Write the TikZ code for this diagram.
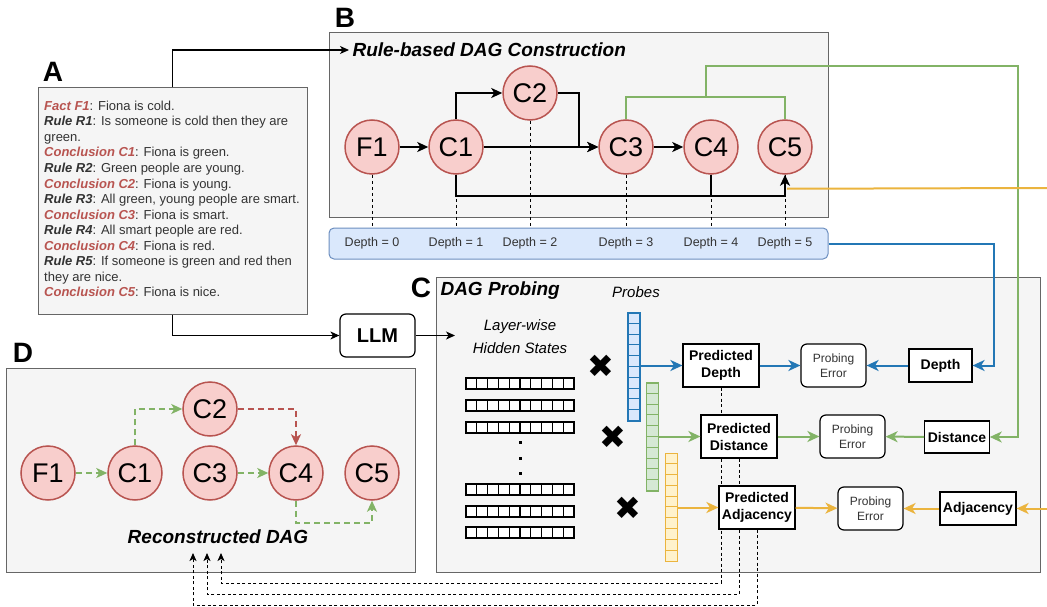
\documentclass[tikz,border=0pt]{standalone}
\usepackage{fontspec}
\setmainfont{Liberation Sans}
\newfontfamily\symfont{DejaVu Sans}
\usetikzlibrary{arrows.meta,calc}
\pgfdeclarelayer{behind}
\pgfsetlayers{behind,main}

\definecolor{nodefill}{HTML}{F8CECC}
\definecolor{noderim}{HTML}{B85450}
\definecolor{panelfill}{HTML}{F5F5F5}
\definecolor{panelrim}{HTML}{666666}
\definecolor{barfill}{HTML}{DAE8FC}
\definecolor{barrim}{HTML}{6C8EBF}
\definecolor{cblue}{HTML}{2377B5}
\definecolor{cgreen}{HTML}{82B366}
\definecolor{cyellow}{HTML}{EBB43E}
\definecolor{gfill}{HTML}{D5E8D4}
\definecolor{yfill}{HTML}{FFF2CC}
\definecolor{txtgray}{HTML}{333333}

\newcommand{\redlbl}[1]{\textcolor{noderim}{\bfseries\itshape #1}}
\newcommand{\darklbl}[1]{{\bfseries\itshape #1}}

\begin{document}
\begin{tikzpicture}[x=1pt,y=-1pt,
  panel/.style={draw=panelrim,fill=panelfill,line width=1pt},
  letter/.style={font=\fontsize{28}{28}\selectfont\bfseries},
  ptitle/.style={anchor=west,font=\fontsize{19}{19}\selectfont\bfseries\itshape},
  dagnode/.style={circle,draw=noderim,fill=nodefill,line width=1.5pt,minimum size=54pt,inner sep=0pt,font=\fontsize{27}{27}\selectfont},
  atext/.style={anchor=west,inner sep=0pt,text height=9.5pt,text depth=2.5pt,text=txtgray,font=\fontsize{13}{15}\selectfont},
  deplbl/.style={text=txtgray,font=\fontsize{12.5}{14}\selectfont},
  blk/.style={line width=2.2pt,-{Stealth[length=11pt,width=10pt,inset=3pt]}},
  blkline/.style={line width=2.2pt},
  thin/.style={line width=1.1pt,-{Stealth[length=9pt,width=8pt,inset=2.5pt]}},
  depthtick/.style={line width=1pt,dash pattern=on 3pt off 3pt},
  botdash/.style={line width=1pt,dash pattern=on 3pt off 2.5pt,-{Stealth[length=8pt,width=7pt,inset=2pt]}},
  colarrow/.style={draw=#1,line width=2pt,-{Stealth[length=12pt,width=11pt,inset=3.5pt]}},
  colline/.style={draw=#1,line width=2pt},
  gdash/.style={draw=#1,line width=2pt,dash pattern=on 6pt off 4pt,-{Stealth[length=11pt,width=10pt,inset=3pt]}},
  probecol/.style 2 args={draw=#1,fill=#2,line width=1.2pt,minimum width=12pt,minimum height=108pt,inner sep=0pt},
  predbox/.style={draw,fill=white,line width=1.2pt,minimum width=76pt,minimum height=43pt,align=center,inner sep=2pt,font=\fontsize{14}{17}\selectfont\bfseries},
  errbox/.style={draw,fill=white,line width=1.2pt,rounded corners=6pt,minimum width=65pt,minimum height=43pt,align=center,text=txtgray,font=\fontsize{12}{14.5}\selectfont},
  tgtbox/.style={draw,fill=white,line width=1.2pt,minimum height=33pt,inner sep=3pt,font=\fontsize{14}{14}\selectfont\bfseries},
  xmark/.style={font=\symfont\fontsize{32}{32}\selectfont}]
\useasboundingbox (0,0) rectangle (1047,607);

% panels
\begin{pgfonlayer}{behind}
\node[panel,minimum width=269pt,minimum height=226pt] (boxA) at (172.5,201) {};
\node[panel,minimum width=499pt,minimum height=184pt] (boxB) at (578.5,125) {};
\node[panel,minimum width=604pt,minimum height=295pt] (boxC) at (738,424.5) {};
\node[panel,minimum width=409pt,minimum height=204pt] (boxD) at (210.5,470) {};
\end{pgfonlayer}
\node[letter] (labA) at (53,72) {A};
\node[letter] (labB) at (345,18) {B};
\node[letter] (labC) at (421,288) {C};
\node[letter] (labD) at (23,353) {D};

% A: rules and facts
\foreach \t [count=\i] in {%
  {\redlbl{Fact F1}: Fiona is cold.},
  {\darklbl{Rule R1}: Is someone is cold then they are},
  {green.},
  {\redlbl{Conclusion C1}: Fiona is green.},
  {\darklbl{Rule R2}: Green people are young.},
  {\redlbl{Conclusion C2}: Fiona is young.},
  {\darklbl{Rule R3}: All green, young people are smart.},
  {\redlbl{Conclusion C3}: Fiona is smart.},
  {\darklbl{Rule R4}: All smart people are red.},
  {\redlbl{Conclusion C4}: Fiona is red.},
  {\darklbl{Rule R5}: If someone is green and red then},
  {they are nice.},
  {\redlbl{Conclusion C5}: Fiona is nice.}}
  \node[atext] (a\i) at (44,{107+(\i-1)*15.5}) {\t};

% B: rule-based DAG
\node[ptitle] (btitle) at (349,50) {Rule-based DAG Construction};
\foreach \n/\x/\y in {F1/372/147,C1/456/147,C2/530/93,C3/626/147,C4/711/147,C5/785/147}
  \node[dagnode] (b\n) at (\x,\y) {\n};
\node[draw=barrim,fill=barfill,rounded corners=5pt,line width=1pt,minimum width=499pt,minimum height=31pt] (depthbar) at (578.5,243.5) {};
\foreach \n/\d in {F1/0,C1/1,C2/2,C3/3,C4/4,C5/5}{
  \draw[depthtick] (b\n.south) -- (b\n.south |- depthbar.north);
  \node[deplbl] (dl\n) at (b\n |- depthbar) {Depth = \d};
}
\draw[blk] (bF1) -- (bC1);
\draw[blk] (bC1.north) |- (bC2.west);
\draw[blk] (bC2.east) -- ++(21,0) |- (bC3.west);
\draw[blk] (bC1) -- (bC3);
\draw[blk] (bC3) -- (bC4);
\draw[blk] (bC1.south) -- ++(0,21) -| (bC5.south);
\draw[blkline] (bC4.south) -- ++(0,21);

\draw[thin] (boxA.north) |- (btitle.west);
\node[draw,fill=white,rounded corners=6pt,line width=1.2pt,minimum width=75pt,minimum height=43pt,font=\fontsize{20}{20}\selectfont\bfseries] (llm) at (377.5,335.5) {LLM};
\coordinate (hsin) at (455,335.5);
\draw[thin] (boxA.south) |- (llm.west);
\draw[thin] (llm.east) -- (hsin);

% C: probing
\node[ptitle] (ctitle) at (437,291) {DAG Probing};
\node[font=\fontsize{15}{15}\selectfont\itshape] (probes) at (636,292) {Probes};
\node[align=center,font=\fontsize{15}{23}\selectfont\itshape] (hstates) at (520,336.5) {Layer-wise\\Hidden States};
\foreach \y in {378,400,422,484,506,527}
  \foreach \c in {0,...,9}
    \draw[line width=1.1pt,fill=white] ({466+\c*10.8},\y) rectangle ++(10.8,11);
\foreach \y in {442,458,473}
  \fill (518.5,{\y-1.5}) rectangle ++(3,3);

\node[probecol={cblue}{barfill}] (prb) at (634,367) {};
\node[probecol={cgreen}{gfill}] (prg) at (652.5,437) {};
\node[probecol={cyellow}{yfill}] (pry) at (671.5,507.5) {};
\foreach \p/\c in {prb/cblue,prg/cgreen,pry/cyellow}
  \foreach \k in {1,...,9}
    \draw[\c,line width=0.9pt] ([yshift={-\k*10.8pt}]\p.north west) -- ([yshift={-\k*10.8pt}]\p.north east);
\node[xmark] (x1) at (601,366) {✖};
\node[xmark] (x2) at (613,437) {✖};
\node[xmark] (x3) at (628,508) {✖};

\node[predbox] (pdepth) at (721,365.5) {Predicted\\Depth};
\node[predbox] (pdist) at (739,436.5) {Predicted\\Distance};
\node[predbox] (padj) at (757,507.5) {Predicted\\Adjacency};
\node[errbox] (err1) at (833.5,365.5) {Probing\\Error};
\node[errbox] (err2) at (852.5,436.5) {Probing\\Error};
\node[errbox] (err3) at (870.5,508.5) {Probing\\Error};
\node[tgtbox,minimum width=63pt] (depth) at (940.5,365.5) {Depth};
\node[tgtbox,minimum width=64pt,minimum height=32pt] (distance) at (957,437) {Distance};
\node[tgtbox,minimum width=76pt] (adjacency) at (978,508.5) {Adjacency};

\draw[colarrow=cblue] (prb.east |- pdepth) -- (pdepth.west);
\draw[colarrow=cblue] (pdepth) -- (err1);
\draw[colarrow=cblue] (depth) -- (err1);
\draw[colarrow=cblue] (depthbar.east) -- ++(165,0) |- (depth.east);

\draw[colarrow=cgreen] (prg.east |- pdist) -- (pdist.west);
\draw[colarrow=cgreen] (pdist) -- (err2);
\draw[colarrow=cgreen] (distance) -- (err2);
\draw[colline=cgreen] (bC3.north) -- ++(0,-22) -| (bC5.north);
\coordinate (gtop) at (1018,66);
\draw[colarrow=cgreen] ($(bC3.north)!0.5!(bC5.north)+(0,-22)$) |- (gtop) |- (distance.east);

\draw[colarrow=cyellow] (pry.east |- padj) -- (padj.west);
\draw[colarrow=cyellow] (padj) -- (err3);
\draw[colarrow=cyellow] (adjacency) -- (err3);
\coordinate (orgout) at (1047,188);
\coordinate (orgin) at (1047,508.5);
\draw[colline=cyellow] ([xshift=2pt,yshift=-14pt]bC5.south) -- (orgout);
\draw[colarrow=cyellow] (orgin) -- (adjacency.east);

% D: reconstructed DAG
\foreach \n/\x/\y in {F1/48/473,C1/135/473,C2/210/409,C3/210/473,C4/296/473,C5/372/473}
  \node[dagnode] (d\n) at (\x,\y) {\n};
\draw[gdash=cgreen] (dF1) -- (dC1);
\draw[gdash=cgreen] (dC1.north) |- (dC2.west);
\draw[gdash=noderim] (dC2.east) -| (dC4.north);
\draw[gdash=cgreen] (dC3) -- (dC4);
\draw[gdash=cgreen] (dC4.south) -- ++(0,22) -| (dC5.south);
\node[ptitle,anchor=center] (recon) at (218,537) {Reconstructed DAG};

\coordinate (rin1) at (221,553);
\coordinate (rin2) at (207,553);
\coordinate (rin3) at (193,553);
\begin{pgfonlayer}{behind}
\draw[botdash] (pdepth.south) |- ([yshift=-30pt]rin1) -- (rin1);
\draw[botdash] (pdist.south) |- ([yshift=-41pt]rin2) -- (rin2);
\draw[botdash] (padj.south) |- ([yshift=-52pt]rin3) -- (rin3);
\end{pgfonlayer}
\end{tikzpicture}
\end{document}
